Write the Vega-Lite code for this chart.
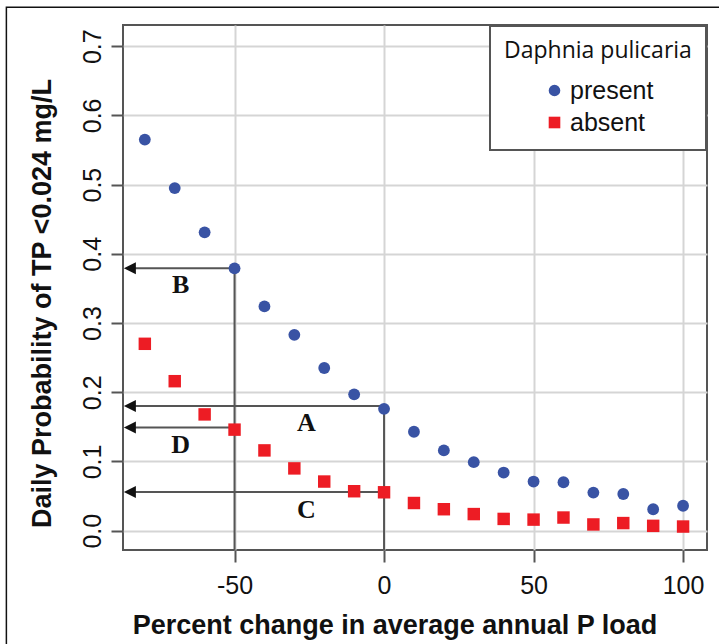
{
  "$schema": "https://vega.github.io/schema/vega-lite/v6.json",
  "width": 584,
  "height": 525,
  "autosize": {"type": "none"},
  "padding": {"left": 123, "top": 25, "right": 12, "bottom": 94},
  "background": "white",
  "config": {
    "view": {"stroke": "#555555", "strokeWidth": 2},
    "axis": {
      "domain": false,
      "grid": true,
      "gridColor": "#d5d5d5",
      "gridWidth": 2,
      "tickColor": "#555555",
      "tickWidth": 2,
      "tickSize": 12,
      "labelFont": "Liberation Sans",
      "labelFontSize": 25,
      "labelColor": "#111111",
      "titleFont": "Liberation Sans",
      "titleFontSize": 27,
      "titleFontWeight": "bold",
      "titleColor": "#111111"
    },
    "legend": {
      "fillColor": "white",
      "strokeColor": "#555555",
      "strokeWidth": 2,
      "padding": 14,
      "titleFont": "Open Sans",
      "titleFontSize": 23,
      "titleFontWeight": "normal",
      "titleColor": "#111111",
      "titleLimit": 400,
      "titlePadding": 15,
      "labelFont": "Liberation Sans",
      "labelFontSize": 25,
      "labelColor": "#111111",
      "rowPadding": 6,
      "symbolSize": 135,
      "symbolOffset": 38,
      "labelOffset": 3,
      "offset": 1
    }
  },
  "datasets": {
    "points": [
      {"x": -80, "y": 0.565, "status": "present"},
      {"x": -70, "y": 0.495, "status": "present"},
      {"x": -60, "y": 0.431, "status": "present"},
      {"x": -50, "y": 0.379, "status": "present"},
      {"x": -40, "y": 0.324, "status": "present"},
      {"x": -30, "y": 0.283, "status": "present"},
      {"x": -20, "y": 0.235, "status": "present"},
      {"x": -10, "y": 0.197, "status": "present"},
      {"x": 0, "y": 0.176, "status": "present"},
      {"x": 10, "y": 0.143, "status": "present"},
      {"x": 20, "y": 0.116, "status": "present"},
      {"x": 30, "y": 0.099, "status": "present"},
      {"x": 40, "y": 0.084, "status": "present"},
      {"x": 50, "y": 0.071, "status": "present"},
      {"x": 60, "y": 0.070, "status": "present"},
      {"x": 70, "y": 0.055, "status": "present"},
      {"x": 80, "y": 0.053, "status": "present"},
      {"x": 90, "y": 0.031, "status": "present"},
      {"x": 100, "y": 0.036, "status": "present"},
      {"x": -80, "y": 0.270, "status": "absent"},
      {"x": -70, "y": 0.216, "status": "absent"},
      {"x": -60, "y": 0.168, "status": "absent"},
      {"x": -50, "y": 0.146, "status": "absent"},
      {"x": -40, "y": 0.116, "status": "absent"},
      {"x": -30, "y": 0.090, "status": "absent"},
      {"x": -20, "y": 0.071, "status": "absent"},
      {"x": -10, "y": 0.057, "status": "absent"},
      {"x": 0, "y": 0.0555, "status": "absent"},
      {"x": 10, "y": 0.040, "status": "absent"},
      {"x": 20, "y": 0.031, "status": "absent"},
      {"x": 30, "y": 0.024, "status": "absent"},
      {"x": 40, "y": 0.017, "status": "absent"},
      {"x": 50, "y": 0.016, "status": "absent"},
      {"x": 60, "y": 0.019, "status": "absent"},
      {"x": 70, "y": 0.009, "status": "absent"},
      {"x": 80, "y": 0.011, "status": "absent"},
      {"x": 90, "y": 0.007, "status": "absent"},
      {"x": 100, "y": 0.006, "status": "absent"}
    ],
    "lines": [
      {"x": -85, "x2": -50, "y": 0.379, "y2": 0.379},
      {"x": -50, "x2": -50, "y": -0.028, "y2": 0.379},
      {"x": -85, "x2": 0, "y": 0.180, "y2": 0.180},
      {"x": 0, "x2": 0, "y": -0.028, "y2": 0.180},
      {"x": -85, "x2": -50, "y": 0.149, "y2": 0.149},
      {"x": -85, "x2": 0, "y": 0.056, "y2": 0.056}
    ],
    "heads": [
      {"x": -85, "y": 0.379},
      {"x": -85, "y": 0.180},
      {"x": -85, "y": 0.149},
      {"x": -85, "y": 0.056}
    ],
    "labels": [
      {"x": -68, "y": 0.343, "label": "B"},
      {"x": -26, "y": 0.144, "label": "A"},
      {"x": -68, "y": 0.112, "label": "D"},
      {"x": -26, "y": 0.019, "label": "C"}
    ]
  },
  "layer": [
    {
      "data": {"values": [{}]},
      "mark": {"type": "rect", "filled": false, "stroke": "#111111", "strokeWidth": 1.5},
      "encoding": {
        "x": {"datum": -126.3, "type": "quantitative", "scale": {"domain": [-87.3, 108], "nice": false, "zero": false}, "title": "Percent change in average annual P load"},
        "x2": {"datum": 140},
        "y": {"datum": 0.7564, "type": "quantitative", "scale": {"domain": [-0.0279, 0.7306], "nice": false, "zero": false}, "title": "Daily Probability of TP <0.024 mg/L"},
        "y2": {"datum": -0.3}
      }
    },
    {
      "data": {"name": "lines"},
      "mark": {"type": "rule", "color": "#555555", "strokeWidth": 2},
      "encoding": {
        "x": {"field": "x", "type": "quantitative", "scale": {"domain": [-87.3, 108], "nice": false, "zero": false}, "title": "Percent change in average annual P load"},
        "x2": {"field": "x2"},
        "y": {"field": "y", "type": "quantitative", "scale": {"domain": [-0.0279, 0.7306], "nice": false, "zero": false}, "title": "Daily Probability of TP <0.024 mg/L"},
        "y2": {"field": "y2"}
      }
    },
    {
      "data": {"name": "points"},
      "mark": {"type": "point", "filled": true, "opacity": 1},
      "encoding": {
        "x": {
          "field": "x", "type": "quantitative",
          "scale": {"domain": [-87.3, 108], "nice": false, "zero": false},
          "title": "Percent change in average annual P load",
          "axis": {
            "values": [-50, 0, 50, 100],
            "labelExpr": "datum.value + ''",
            "labelBaseline": "alphabetic",
            "labelPadding": 31,
            "titleBaseline": "alphabetic",
            "titleX": 271.5,
            "titleY": 83
          }
        },
        "y": {
          "field": "y", "type": "quantitative",
          "scale": {"domain": [-0.0279, 0.7306], "nice": false, "zero": false},
          "title": "Daily Probability of TP <0.024 mg/L",
          "axis": {
            "values": [0, 0.1, 0.2, 0.3, 0.4, 0.5, 0.6, 0.7],
            "labelExpr": "format(datum.value, '.1f')",
            "labelAngle": 270,
            "labelAlign": "center",
            "labelBaseline": "alphabetic",
            "labelPadding": 11,
            "titleAngle": 270,
            "titleBaseline": "alphabetic",
            "titleAlign": "center",
            "titleX": -73,
            "titleY": 278
          }
        },
        "color": {
          "field": "status", "type": "nominal",
          "scale": {"domain": ["present", "absent"], "range": ["#3953a4", "#ed1c24"]},
          "legend": {"title": "Daphnia pulicaria", "orient": "top-right"}
        },
        "shape": {
          "field": "status", "type": "nominal",
          "scale": {"domain": ["present", "absent"], "range": ["circle", "square"]},
          "legend": {"title": "Daphnia pulicaria", "orient": "top-right"}
        },
        "size": {
          "condition": {"test": "datum.status === 'present'", "value": 140},
          "value": 155
        }
      }
    },
    {
      "data": {"name": "heads"},
      "mark": {"type": "point", "filled": true, "opacity": 1, "shape": "M -1 0 L 1 -1 L 1 1 Z", "size": 144, "color": "#111111"},
      "encoding": {
        "x": {"field": "x", "type": "quantitative", "scale": {"domain": [-87.3, 108], "nice": false, "zero": false}, "title": "Percent change in average annual P load"},
        "y": {"field": "y", "type": "quantitative", "scale": {"domain": [-0.0279, 0.7306], "nice": false, "zero": false}, "title": "Daily Probability of TP <0.024 mg/L"}
      }
    },
    {
      "data": {"name": "labels"},
      "mark": {"type": "text", "font": "Liberation Serif", "fontWeight": "bold", "fontSize": 26, "color": "#111111", "align": "center", "baseline": "alphabetic"},
      "encoding": {
        "x": {"field": "x", "type": "quantitative", "scale": {"domain": [-87.3, 108], "nice": false, "zero": false}, "title": "Percent change in average annual P load"},
        "y": {"field": "y", "type": "quantitative", "scale": {"domain": [-0.0279, 0.7306], "nice": false, "zero": false}, "title": "Daily Probability of TP <0.024 mg/L"},
        "text": {"field": "label", "type": "nominal"}
      }
    }
  ]
}
